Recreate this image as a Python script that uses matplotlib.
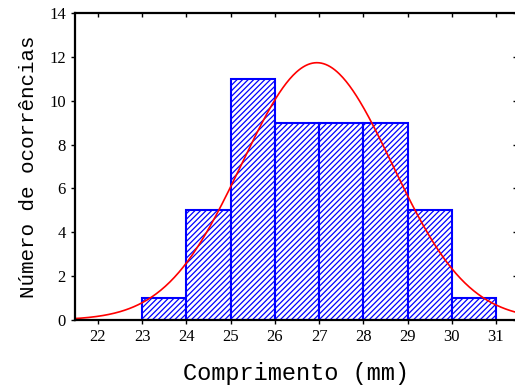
import numpy as np
import matplotlib.pyplot as plt

# histogram data (bin edges in mm, counts)
bin_left = [23, 24, 25, 26, 27, 28, 29, 30]
counts = [1, 5, 11, 9, 9, 9, 5, 1]
bin_width = 1.0
# fitted normal curve parameters
mu = 26.95
sigma = 1.70
n_total = sum(counts)

xticks = [22, 23, 24, 25, 26, 27, 28, 29, 30, 31]
yticks = [0, 2, 4, 6, 8, 10, 12, 14]

plt.rcParams['hatch.linewidth'] = 0.9
plt.rcParams['hatch.color'] = 'blue'

fig = plt.figure(figsize=(5.15, 3.92), dpi=100)
ax = fig.add_axes([75/515, 72/392, 442/515, 307/392])

ax.bar(bin_left, counts, width=bin_width, align='edge', facecolor='white',
       edgecolor='blue', linewidth=1.5, hatch='//////')

x = np.linspace(21.4, 31.6, 400)
y = n_total * bin_width / (sigma * np.sqrt(2 * np.pi)) * np.exp(-0.5 * ((x - mu) / sigma) ** 2)
ax.plot(x, y, color='red', linewidth=1.2)

ax.set_xlim(21.48, 31.475)
ax.set_ylim(0, 14)
ax.set_xticks(xticks)
ax.set_yticks(yticks)
ax.tick_params(axis='both', which='both', direction='out', length=3, width=1,
               labelsize=12, top=True, right=True)
for lab in ax.get_xticklabels() + ax.get_yticklabels():
    lab.set_fontfamily('Liberation Serif')
for t in ax.xaxis.get_major_ticks():
    t.tick2line.set_marker(3)
for t in ax.yaxis.get_major_ticks():
    t.tick2line.set_marker(0)
for s in ax.spines.values():
    s.set_linewidth(1.6)

ax.set_xlabel('Comprimento (mm)', fontfamily='Liberation Mono', fontsize=17, labelpad=12)
ax.set_ylabel('Número de ocorrências', fontfamily='Liberation Mono', fontsize=15, labelpad=8)

fig.savefig('out.png', dpi=100)
